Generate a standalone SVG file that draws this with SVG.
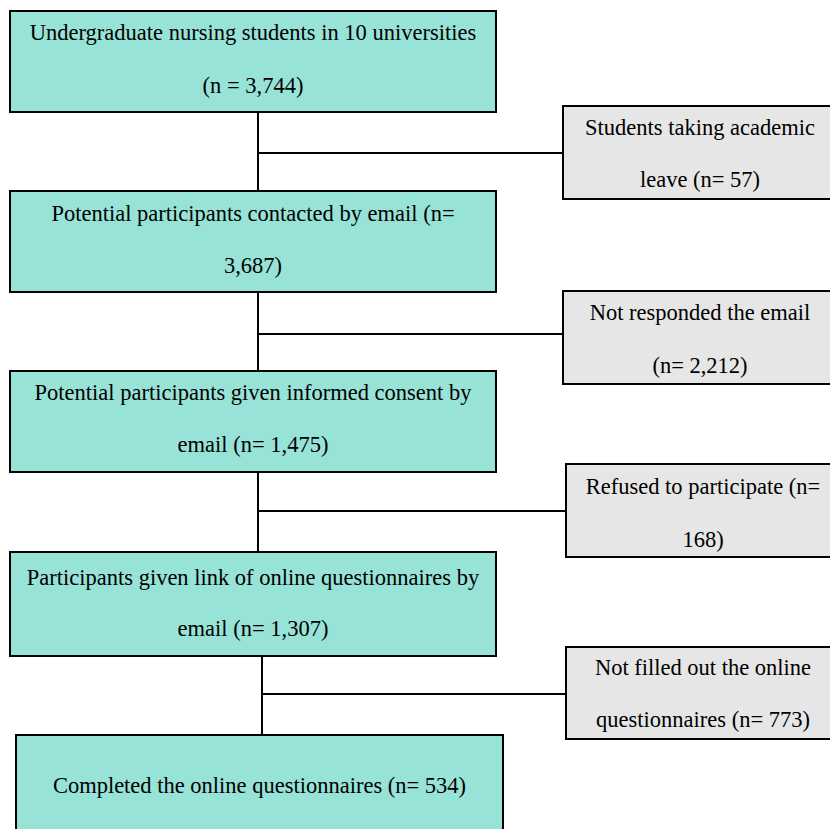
<svg xmlns="http://www.w3.org/2000/svg" width="830" height="829" viewBox="0 0 830 829">
<style>
.main{fill:#98e3d7;stroke:#000;stroke-width:2}
.side{fill:#e6e6e6;stroke:#000;stroke-width:2}
text{font-family:'Liberation Serif','Times New Roman',Times,serif;font-size:22.5px;fill:#000;text-anchor:middle}
.conn line{stroke:#000;stroke-width:2}
</style>
<rect width="830" height="829" fill="#fff"/>
<g class="conn">
<line x1="258" y1="112" x2="258" y2="191"/>
<line x1="258" y1="153" x2="563" y2="153"/>
<line x1="258" y1="292" x2="258" y2="371"/>
<line x1="258" y1="334" x2="563" y2="334"/>
<line x1="258" y1="472" x2="258" y2="552"/>
<line x1="258" y1="511" x2="566" y2="511"/>
<line x1="262" y1="656" x2="262" y2="735"/>
<line x1="262" y1="694" x2="566" y2="694"/>
</g>
<g font-family="Liberation Serif, serif">
<g id="n1"><rect class="main" x="10" y="11" width="486" height="101"/><text x="253" y="40">Undergraduate nursing students in 10 universities</text><text x="253" y="93">(n = 3,744)</text></g>
<g id="s1"><rect class="side" x="563" y="106" width="280" height="93"/><text x="700" y="135">Students taking academic</text><text x="700" y="187">leave (n= 57)</text></g>
<g id="n2"><rect class="main" x="10" y="191" width="486" height="101"/><text x="253" y="221">Potential participants contacted by email (n=</text><text x="253" y="273">3,687)</text></g>
<g id="s2"><rect class="side" x="563" y="291" width="280" height="93"/><text x="700" y="320">Not responded the email</text><text x="700" y="373">(n= 2,212)</text></g>
<g id="n3"><rect class="main" x="10" y="371" width="486" height="101"/><text x="253" y="400">Potential participants given informed consent by</text><text x="253" y="452">email (n= 1,475)</text></g>
<g id="s3"><rect class="side" x="566" y="464" width="280" height="93"/><text x="703" y="494">Refused to participate (n=</text><text x="703" y="547">168)</text></g>
<g id="n4"><rect class="main" x="10" y="552" width="486" height="104"/><text x="253" y="585">Participants given link of online questionnaires by</text><text x="253" y="636">email (n= 1,307)</text></g>
<g id="s4"><rect class="side" x="566" y="647" width="280" height="92"/><text x="703" y="675">Not filled out the online</text><text x="703" y="727">questionnaires (n= 773)</text></g>
<g id="n5"><rect class="main" x="16" y="735" width="487" height="110"/><text x="259.5" y="793">Completed the online questionnaires (n= 534)</text></g>
</g>
</svg>
